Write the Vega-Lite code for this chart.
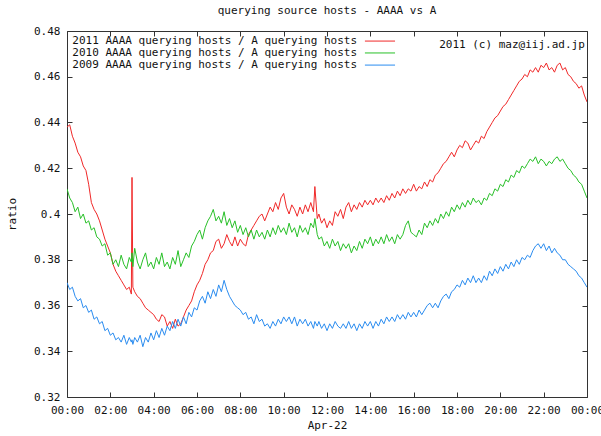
{
  "$schema": "https://vega.github.io/schema/vega-lite/v6.json",
  "width": 520,
  "height": 366,
  "autosize": "none",
  "padding": {"left": 67, "top": 31, "right": 14, "bottom": 39},
  "background": "white",
  "config": {
    "font": "DejaVu Sans Mono",
    "view": {"stroke": "#333333", "strokeWidth": 1},
    "axis": {"labelFont": "DejaVu Sans Mono", "titleFont": "DejaVu Sans Mono", "labelFontSize": 11, "titleFontSize": 11, "titleFontWeight": "normal", "labelColor": "#111", "titleColor": "#111", "grid": false, "domain": false, "tickColor": "#333", "tickSize": -5},
    "text": {"font": "DejaVu Sans Mono", "fontSize": 11, "color": "#111"}
  },
  "title": {"text": "querying source hosts - AAAA vs A", "font": "DejaVu Sans Mono", "fontSize": 11, "fontWeight": "normal", "color": "#111", "offset": 9},
  "resolve": {"axis": {"x": "independent", "y": "independent"}},
  "layer": [
    {
      "data": {"values": [
        {"t":0.000,"r":0.438,"g":0.411,"b":0.370},
        {"t":0.125,"r":0.439,"g":0.407,"b":0.367},
        {"t":0.250,"r":0.434,"g":0.405,"b":0.368},
        {"t":0.375,"r":0.431,"g":0.401,"b":0.364},
        {"t":0.500,"r":0.427,"g":0.403,"b":0.362},
        {"t":0.625,"r":0.425,"g":0.398,"b":0.363},
        {"t":0.750,"r":0.421,"g":0.400,"b":0.359},
        {"t":0.875,"r":0.419,"g":0.396,"b":0.360},
        {"t":1.000,"r":0.413,"g":0.397,"b":0.357},
        {"t":1.125,"r":0.405,"g":0.393,"b":0.358},
        {"t":1.250,"r":0.402,"g":0.394,"b":0.354},
        {"t":1.375,"r":0.400,"g":0.390,"b":0.355},
        {"t":1.500,"r":0.397,"g":0.389,"b":0.352},
        {"t":1.625,"r":0.393,"g":0.386,"b":0.353},
        {"t":1.750,"r":0.389,"g":0.387,"b":0.349},
        {"t":1.875,"r":0.386,"g":0.382,"b":0.350},
        {"t":2.000,"r":0.383,"g":0.383,"b":0.347},
        {"t":2.125,"r":0.378,"g":0.378,"b":0.348},
        {"t":2.250,"r":0.375,"g":0.380,"b":0.345},
        {"t":2.375,"r":0.373,"g":0.377,"b":0.346},
        {"t":2.500,"r":0.371,"g":0.382,"b":0.344},
        {"t":2.625,"r":0.369,"g":0.378,"b":0.347},
        {"t":2.750,"r":0.367,"g":0.376,"b":0.343},
        {"t":2.875,"r":0.368,"g":0.381,"b":0.346},
        {"t":2.970,"r":0.365,"g":0.379,"b":0.344},
        {"t":3.000,"r":0.416,"g":0.383,"b":0.345},
        {"t":3.040,"r":0.368,"g":0.377,"b":0.343},
        {"t":3.125,"r":0.366,"g":0.385,"b":0.346},
        {"t":3.250,"r":0.364,"g":0.379,"b":0.344},
        {"t":3.375,"r":0.363,"g":0.376,"b":0.347},
        {"t":3.500,"r":0.361,"g":0.380,"b":0.342},
        {"t":3.625,"r":0.359,"g":0.383,"b":0.346},
        {"t":3.750,"r":0.358,"g":0.377,"b":0.344},
        {"t":3.875,"r":0.357,"g":0.379,"b":0.348},
        {"t":4.000,"r":0.356,"g":0.376,"b":0.345},
        {"t":4.125,"r":0.354,"g":0.381,"b":0.349},
        {"t":4.250,"r":0.353,"g":0.378,"b":0.346},
        {"t":4.375,"r":0.356,"g":0.383,"b":0.350},
        {"t":4.500,"r":0.355,"g":0.377,"b":0.347},
        {"t":4.625,"r":0.351,"g":0.379,"b":0.351},
        {"t":4.750,"r":0.353,"g":0.376,"b":0.349},
        {"t":4.875,"r":0.350,"g":0.381,"b":0.353},
        {"t":5.000,"r":0.354,"g":0.378,"b":0.350},
        {"t":5.125,"r":0.351,"g":0.384,"b":0.354},
        {"t":5.250,"r":0.352,"g":0.377,"b":0.351},
        {"t":5.375,"r":0.355,"g":0.380,"b":0.355},
        {"t":5.500,"r":0.358,"g":0.383,"b":0.352},
        {"t":5.625,"r":0.360,"g":0.381,"b":0.357},
        {"t":5.750,"r":0.362,"g":0.386,"b":0.355},
        {"t":5.875,"r":0.366,"g":0.388,"b":0.359},
        {"t":6.000,"r":0.369,"g":0.391,"b":0.358},
        {"t":6.125,"r":0.371,"g":0.393,"b":0.362},
        {"t":6.250,"r":0.374,"g":0.389,"b":0.364},
        {"t":6.375,"r":0.378,"g":0.394,"b":0.361},
        {"t":6.500,"r":0.380,"g":0.397,"b":0.366},
        {"t":6.625,"r":0.383,"g":0.399,"b":0.363},
        {"t":6.750,"r":0.384,"g":0.402,"b":0.367},
        {"t":6.875,"r":0.388,"g":0.397,"b":0.364},
        {"t":7.000,"r":0.389,"g":0.399,"b":0.369},
        {"t":7.125,"r":0.385,"g":0.396,"b":0.366},
        {"t":7.250,"r":0.387,"g":0.401,"b":0.371},
        {"t":7.375,"r":0.391,"g":0.395,"b":0.367},
        {"t":7.500,"r":0.388,"g":0.398,"b":0.364},
        {"t":7.625,"r":0.386,"g":0.394,"b":0.362},
        {"t":7.750,"r":0.390,"g":0.397,"b":0.360},
        {"t":7.875,"r":0.386,"g":0.392,"b":0.359},
        {"t":8.000,"r":0.389,"g":0.395,"b":0.358},
        {"t":8.125,"r":0.387,"g":0.391,"b":0.356},
        {"t":8.250,"r":0.386,"g":0.394,"b":0.357},
        {"t":8.375,"r":0.391,"g":0.390,"b":0.354},
        {"t":8.500,"r":0.393,"g":0.393,"b":0.355},
        {"t":8.625,"r":0.395,"g":0.389,"b":0.352},
        {"t":8.750,"r":0.397,"g":0.393,"b":0.356},
        {"t":8.875,"r":0.399,"g":0.390,"b":0.353},
        {"t":9.000,"r":0.400,"g":0.392,"b":0.354},
        {"t":9.125,"r":0.397,"g":0.389,"b":0.351},
        {"t":9.250,"r":0.400,"g":0.393,"b":0.352},
        {"t":9.375,"r":0.403,"g":0.390,"b":0.350},
        {"t":9.500,"r":0.401,"g":0.394,"b":0.353},
        {"t":9.625,"r":0.405,"g":0.391,"b":0.351},
        {"t":9.750,"r":0.402,"g":0.395,"b":0.354},
        {"t":9.875,"r":0.407,"g":0.392,"b":0.352},
        {"t":10.000,"r":0.409,"g":0.394,"b":0.355},
        {"t":10.125,"r":0.403,"g":0.391,"b":0.353},
        {"t":10.250,"r":0.400,"g":0.396,"b":0.355},
        {"t":10.375,"r":0.404,"g":0.392,"b":0.352},
        {"t":10.500,"r":0.402,"g":0.394,"b":0.355},
        {"t":10.625,"r":0.399,"g":0.390,"b":0.351},
        {"t":10.750,"r":0.403,"g":0.395,"b":0.354},
        {"t":10.875,"r":0.400,"g":0.392,"b":0.352},
        {"t":11.000,"r":0.404,"g":0.394,"b":0.354},
        {"t":11.125,"r":0.401,"g":0.391,"b":0.351},
        {"t":11.250,"r":0.405,"g":0.396,"b":0.353},
        {"t":11.375,"r":0.401,"g":0.394,"b":0.350},
        {"t":11.440,"r":0.412,"g":0.398,"b":0.353},
        {"t":11.550,"r":0.398,"g":0.391,"b":0.351},
        {"t":11.625,"r":0.400,"g":0.389,"b":0.353},
        {"t":11.750,"r":0.396,"g":0.390,"b":0.350},
        {"t":11.875,"r":0.398,"g":0.386,"b":0.352},
        {"t":12.000,"r":0.394,"g":0.388,"b":0.349},
        {"t":12.125,"r":0.397,"g":0.385,"b":0.352},
        {"t":12.250,"r":0.395,"g":0.389,"b":0.350},
        {"t":12.375,"r":0.401,"g":0.386,"b":0.353},
        {"t":12.500,"r":0.399,"g":0.388,"b":0.351},
        {"t":12.625,"r":0.402,"g":0.384,"b":0.350},
        {"t":12.750,"r":0.398,"g":0.387,"b":0.352},
        {"t":12.875,"r":0.403,"g":0.385,"b":0.350},
        {"t":13.000,"r":0.405,"g":0.387,"b":0.353},
        {"t":13.125,"r":0.401,"g":0.383,"b":0.350},
        {"t":13.250,"r":0.404,"g":0.386,"b":0.352},
        {"t":13.375,"r":0.402,"g":0.384,"b":0.349},
        {"t":13.500,"r":0.405,"g":0.388,"b":0.352},
        {"t":13.625,"r":0.403,"g":0.385,"b":0.350},
        {"t":13.750,"r":0.406,"g":0.389,"b":0.353},
        {"t":13.875,"r":0.404,"g":0.387,"b":0.351},
        {"t":14.000,"r":0.406,"g":0.390,"b":0.353},
        {"t":14.125,"r":0.404,"g":0.386,"b":0.350},
        {"t":14.250,"r":0.407,"g":0.389,"b":0.353},
        {"t":14.375,"r":0.405,"g":0.387,"b":0.351},
        {"t":14.500,"r":0.407,"g":0.390,"b":0.354},
        {"t":14.625,"r":0.405,"g":0.387,"b":0.352},
        {"t":14.750,"r":0.408,"g":0.391,"b":0.355},
        {"t":14.875,"r":0.406,"g":0.388,"b":0.353},
        {"t":15.000,"r":0.409,"g":0.390,"b":0.355},
        {"t":15.125,"r":0.407,"g":0.387,"b":0.353},
        {"t":15.250,"r":0.410,"g":0.391,"b":0.356},
        {"t":15.375,"r":0.408,"g":0.389,"b":0.354},
        {"t":15.500,"r":0.411,"g":0.391,"b":0.356},
        {"t":15.625,"r":0.409,"g":0.395,"b":0.354},
        {"t":15.750,"r":0.411,"g":0.397,"b":0.357},
        {"t":15.875,"r":0.410,"g":0.392,"b":0.355},
        {"t":16.000,"r":0.413,"g":0.391,"b":0.357},
        {"t":16.125,"r":0.410,"g":0.390,"b":0.355},
        {"t":16.250,"r":0.412,"g":0.393,"b":0.358},
        {"t":16.375,"r":0.411,"g":0.391,"b":0.356},
        {"t":16.500,"r":0.414,"g":0.396,"b":0.358},
        {"t":16.625,"r":0.412,"g":0.394,"b":0.360},
        {"t":16.750,"r":0.415,"g":0.397,"b":0.361},
        {"t":16.875,"r":0.414,"g":0.395,"b":0.359},
        {"t":17.000,"r":0.417,"g":0.398,"b":0.361},
        {"t":17.125,"r":0.418,"g":0.396,"b":0.359},
        {"t":17.250,"r":0.420,"g":0.400,"b":0.362},
        {"t":17.375,"r":0.422,"g":0.398,"b":0.364},
        {"t":17.500,"r":0.423,"g":0.401,"b":0.365},
        {"t":17.625,"r":0.425,"g":0.399,"b":0.363},
        {"t":17.750,"r":0.427,"g":0.403,"b":0.366},
        {"t":17.875,"r":0.425,"g":0.401,"b":0.367},
        {"t":18.000,"r":0.428,"g":0.404,"b":0.369},
        {"t":18.125,"r":0.430,"g":0.402,"b":0.368},
        {"t":18.250,"r":0.429,"g":0.405,"b":0.371},
        {"t":18.375,"r":0.432,"g":0.403,"b":0.369},
        {"t":18.500,"r":0.431,"g":0.406,"b":0.372},
        {"t":18.625,"r":0.428,"g":0.404,"b":0.370},
        {"t":18.750,"r":0.430,"g":0.407,"b":0.373},
        {"t":18.875,"r":0.432,"g":0.405,"b":0.370},
        {"t":19.000,"r":0.431,"g":0.406,"b":0.372},
        {"t":19.125,"r":0.434,"g":0.404,"b":0.370},
        {"t":19.250,"r":0.433,"g":0.407,"b":0.373},
        {"t":19.375,"r":0.436,"g":0.406,"b":0.371},
        {"t":19.500,"r":0.438,"g":0.409,"b":0.375},
        {"t":19.625,"r":0.440,"g":0.408,"b":0.373},
        {"t":19.750,"r":0.442,"g":0.411,"b":0.376},
        {"t":19.875,"r":0.443,"g":0.410,"b":0.374},
        {"t":20.000,"r":0.445,"g":0.413,"b":0.377},
        {"t":20.125,"r":0.447,"g":0.412,"b":0.375},
        {"t":20.250,"r":0.448,"g":0.415,"b":0.378},
        {"t":20.375,"r":0.450,"g":0.414,"b":0.376},
        {"t":20.500,"r":0.452,"g":0.417,"b":0.379},
        {"t":20.625,"r":0.454,"g":0.416,"b":0.377},
        {"t":20.750,"r":0.456,"g":0.419,"b":0.380},
        {"t":20.875,"r":0.458,"g":0.418,"b":0.378},
        {"t":21.000,"r":0.459,"g":0.421,"b":0.381},
        {"t":21.125,"r":0.461,"g":0.420,"b":0.380},
        {"t":21.250,"r":0.460,"g":0.422,"b":0.382},
        {"t":21.375,"r":0.463,"g":0.424,"b":0.381},
        {"t":21.500,"r":0.462,"g":0.423,"b":0.384},
        {"t":21.625,"r":0.464,"g":0.425,"b":0.386},
        {"t":21.750,"r":0.462,"g":0.422,"b":0.387},
        {"t":21.875,"r":0.465,"g":0.424,"b":0.385},
        {"t":22.000,"r":0.464,"g":0.423,"b":0.387},
        {"t":22.125,"r":0.466,"g":0.421,"b":0.384},
        {"t":22.250,"r":0.463,"g":0.423,"b":0.386},
        {"t":22.375,"r":0.464,"g":0.422,"b":0.383},
        {"t":22.500,"r":0.462,"g":0.424,"b":0.385},
        {"t":22.625,"r":0.465,"g":0.425,"b":0.383},
        {"t":22.750,"r":0.466,"g":0.423,"b":0.382},
        {"t":22.875,"r":0.463,"g":0.424,"b":0.380},
        {"t":23.000,"r":0.464,"g":0.422,"b":0.380},
        {"t":23.125,"r":0.461,"g":0.420,"b":0.378},
        {"t":23.250,"r":0.460,"g":0.419,"b":0.377},
        {"t":23.375,"r":0.458,"g":0.417,"b":0.376},
        {"t":23.500,"r":0.457,"g":0.416,"b":0.375},
        {"t":23.625,"r":0.455,"g":0.414,"b":0.373},
        {"t":23.750,"r":0.456,"g":0.413,"b":0.372},
        {"t":23.875,"r":0.452,"g":0.410,"b":0.370},
        {"t":24.000,"r":0.449,"g":0.407,"b":0.368}
      ]},
      "transform": [{"fold": ["r", "g", "b"], "as": ["s", "v"]}],
      "mark": {"type": "line", "strokeWidth": 1, "clip": true},
      "encoding": {
        "x": {"field": "t", "type": "quantitative", "scale": {"domain": [0, 24], "nice": false, "zero": false},
              "axis": {"values": [0,2,4,6,8,10,12,14,16,18,20,22,24], "labelExpr": "(datum.value % 24 < 10 ? '0' : '') + (datum.value % 24) + ':00'", "title": "Apr-22", "labelPadding": 12, "titlePadding": 4, "labelFlush": false}},
        "y": {"field": "v", "type": "quantitative", "scale": {"domain": [0.32, 0.48], "nice": false, "zero": false},
              "axis": {"values": [0.32,0.34,0.36,0.38,0.40,0.42,0.44,0.46,0.48], "format": ".2~f", "title": "ratio", "labelPadding": 12, "titlePadding": 16}},
        "color": {"field": "s", "type": "nominal",
                  "scale": {"domain": ["r", "g", "b"], "range": ["#f02828", "#28c028", "#2a8cf0"]},
                  "legend": null}
      }
    },
    {
      "data": {"values": [{"label": "2011 AAAA querying hosts / A querying hosts"}]},
      "mark": {"type": "text", "align": "right", "baseline": "middle"},
      "encoding": {"x": {"datum": 13.39, "axis": null}, "y": {"datum": 0.4756, "axis": null}, "text": {"field": "label"}}
    },
    {
      "data": {"values": [{"label": "2010 AAAA querying hosts / A querying hosts"}]},
      "mark": {"type": "text", "align": "right", "baseline": "middle"},
      "encoding": {"x": {"datum": 13.39, "axis": null}, "y": {"datum": 0.4704, "axis": null}, "text": {"field": "label"}}
    },
    {
      "data": {"values": [{"label": "2009 AAAA querying hosts / A querying hosts"}]},
      "mark": {"type": "text", "align": "right", "baseline": "middle"},
      "encoding": {"x": {"datum": 13.39, "axis": null}, "y": {"datum": 0.4651, "axis": null}, "text": {"field": "label"}}
    },
    {
      "data": {"values": [{"s": "r"}]},
      "mark": {"type": "rule", "strokeWidth": 1},
      "encoding": {"x": {"datum": 13.75, "axis": null}, "x2": {"datum": 15.14}, "y": {"datum": 0.4756, "axis": null},
                   "color": {"field": "s", "type": "nominal", "legend": null}}
    },
    {
      "data": {"values": [{"s": "g"}]},
      "mark": {"type": "rule", "strokeWidth": 1},
      "encoding": {"x": {"datum": 13.75, "axis": null}, "x2": {"datum": 15.14}, "y": {"datum": 0.4704, "axis": null},
                   "color": {"field": "s", "type": "nominal", "legend": null}}
    },
    {
      "data": {"values": [{"s": "b"}]},
      "mark": {"type": "rule", "strokeWidth": 1},
      "encoding": {"x": {"datum": 13.75, "axis": null}, "x2": {"datum": 15.14}, "y": {"datum": 0.4651, "axis": null},
                   "color": {"field": "s", "type": "nominal", "legend": null}}
    },
    {
      "data": {"values": [{"note": "2011 (c) maz@iij.ad.jp"}]},
      "mark": {"type": "text", "align": "right", "baseline": "middle"},
      "encoding": {
        "x": {"datum": 23.9, "axis": {"orient": "top", "values": [0,2,4,6,8,10,12,14,16,18,20,22,24], "labels": false, "title": null}},
        "y": {"datum": 0.4739, "axis": {"orient": "right", "values": [0.32,0.34,0.36,0.38,0.40,0.42,0.44,0.46,0.48], "labels": false, "title": null}},
        "text": {"field": "note"}
      }
    }
  ]
}
